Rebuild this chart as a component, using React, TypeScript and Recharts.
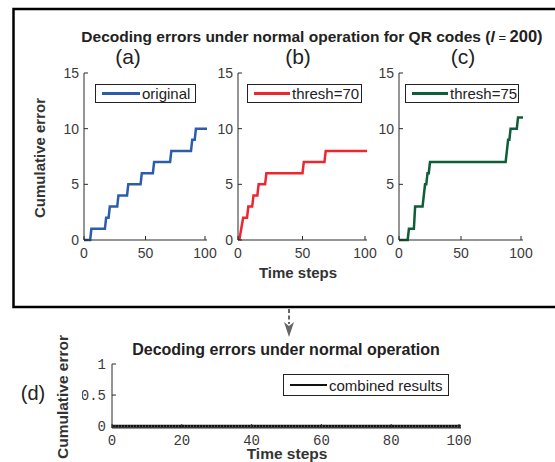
import React from 'react';
import { LineChart, Line, XAxis, YAxis, Legend } from 'recharts';

const SANS = '"Liberation Sans", Arial, sans-serif';
const MONO = '"Liberation Mono", "Courier New", monospace';
const AXIS = '#2b2b2b';
const TXT = '#3a3a3a';

// (a) original
const TIME_A = [0, 5, 6, 17, 18, 20, 21, 27, 28, 35, 36, 46, 47, 56, 57, 70, 71, 87, 88, 90, 91, 100];
const ERR_A = [0, 0, 1, 1, 2, 2, 3, 3, 4, 4, 5, 5, 6, 6, 7, 7, 8, 8, 9, 9, 10, 10];
// (b) thresh=70
const TIME_B = [1, 4, 7, 8, 11, 12, 15, 16, 21, 22, 50, 51, 67, 68, 100];
const ERR_B = [0, 2, 2, 3, 3, 4, 4, 5, 5, 6, 6, 7, 7, 8, 8];
// (c) thresh=75
const TIME_C = [0, 7, 8, 12, 13, 19, 21, 22, 23, 24, 25, 86, 88, 89, 90, 95, 96, 100];
const ERR_C = [0, 0, 1, 1, 3, 3, 5, 5, 6, 6, 7, 7, 9, 9, 10, 10, 11, 11];
// (d) combined results
const TIME_D = [0, 100];
const ERR_D = [0, 0];

const TOP_X_TICKS = [0, 50, 100];
const TOP_Y_TICKS = [0, 5, 10, 15];
const BOT_X_TICKS = [0, 20, 40, 60, 80, 100];
const BOT_Y_TICKS = [0, 0.5, 1];

const toPoints = (time: number[], err: number[]) => time.map((t, i) => ({ t, v: err[i] }));

function XTick(props: any) {
  const { x, y, payload, font, size, off } = props;
  return (
    <g>
      <line x1={x} x2={x} y1={y} y2={y - 4} stroke={AXIS} />
      <text x={x} y={y + off} dy="0.35em" textAnchor="middle" fontFamily={font} fontSize={size} fill={TXT}>
        {payload.value}
      </text>
    </g>
  );
}

function YTick(props: any) {
  const { x, y, payload, font, size, off } = props;
  return (
    <g>
      <line x1={x} x2={x + 4} y1={y} y2={y} stroke={AXIS} />
      <text x={x - off} y={y} dy="0.35em" textAnchor="end" fontFamily={font} fontSize={size} fill={TXT}>
        {payload.value}
      </text>
    </g>
  );
}

function LegendBox({ w, h, color, label, sw }: any) {
  return (
    <div
      style={{
        width: w,
        height: h,
        boxSizing: 'border-box',
        border: '1px solid #222',
        background: '#fff',
        display: 'flex',
        alignItems: 'center',
        paddingLeft: 6,
        fontFamily: SANS,
        fontSize: 15,
        color: '#222',
        lineHeight: 1,
        whiteSpace: 'nowrap',
      }}
    >
      <div style={{ width: sw, height: 2.5, background: color, marginRight: 2 }} />
      <span>{label}</span>
    </div>
  );
}

function Panel({ L, T, W, H, time, err, color, label, box }: any) {
  const data = toPoints(time, err);
  const left = L - 30;
  const top = T - 10;
  return (
    <div style={{ position: 'absolute', left, top }}>
      <LineChart width={W + 40} height={H + 35} margin={{ top: 10, right: 10, bottom: 0, left: 0 }}>
        <XAxis
          dataKey="t"
          type="number"
          domain={[0, 100]}
          ticks={TOP_X_TICKS}
          height={25}
          stroke={AXIS}
          tickLine={false}
          tickSize={0}
          tickMargin={0}
          tick={(p: any) => <XTick {...p} font={SANS} size={14} off={13} />}
        />
        <XAxis
          xAxisId="top"
          orientation="top"
          dataKey="t"
          type="number"
          domain={[0, 100]}
          ticks={TOP_X_TICKS}
          height={0}
          mirror
          tick={false}
          tickSize={4}
          stroke={AXIS}
        />
        <YAxis
          type="number"
          domain={[0, 15]}
          ticks={TOP_Y_TICKS}
          width={30}
          stroke={AXIS}
          tickLine={false}
          tickSize={0}
          tickMargin={0}
          tick={(p: any) => <YTick {...p} font={SANS} size={14} off={5} />}
        />
        <YAxis
          yAxisId="right"
          orientation="right"
          type="number"
          domain={[0, 15]}
          ticks={TOP_Y_TICKS}
          width={0}
          mirror
          tick={false}
          tickSize={4}
          stroke={AXIS}
        />
        <Line
          data={data}
          dataKey="v"
          type="linear"
          stroke={color}
          strokeWidth={2.5}
          dot={false}
          isAnimationActive={false}
        />
        <Legend
          layout="vertical"
          align="center"
          verticalAlign="middle"
          wrapperStyle={{ left: box.x - left, top: box.y - top, width: box.w }}
          content={() => <LegendBox w={box.w} h={box.h} color={color} label={label} sw={box.sw} />}
        />
      </LineChart>
    </div>
  );
}

function Combined() {
  const data = toPoints(TIME_D, ERR_D);
  const L = 112;
  const T = 364;
  const W = 349;
  const H = 64;
  const left = L - 30;
  const top = T - 10;
  return (
    <div style={{ position: 'absolute', left, top }}>
      <LineChart width={W + 40} height={H + 35} margin={{ top: 10, right: 10, bottom: 0, left: 0 }}>
        <XAxis
          dataKey="t"
          type="number"
          domain={[0, 100]}
          ticks={BOT_X_TICKS}
          height={25}
          stroke={AXIS}
          tickLine={false}
          tickSize={0}
          tickMargin={0}
          tick={(p: any) => <XTick {...p} font={MONO} size={14} off={12} />}
        />
        <XAxis
          xAxisId="top"
          orientation="top"
          dataKey="t"
          type="number"
          domain={[0, 100]}
          ticks={BOT_X_TICKS}
          height={0}
          mirror
          tick={false}
          tickSize={4}
          stroke={AXIS}
        />
        <YAxis
          type="number"
          domain={[-0.03, 1]}
          ticks={BOT_Y_TICKS}
          width={30}
          stroke={AXIS}
          tickLine={false}
          tickSize={0}
          tickMargin={0}
          tick={(p: any) => <YTick {...p} font={MONO} size={14} off={6} />}
        />
        <YAxis
          yAxisId="right"
          orientation="right"
          type="number"
          domain={[-0.03, 1]}
          ticks={BOT_Y_TICKS}
          width={0}
          mirror
          tick={false}
          tickSize={4}
          stroke={AXIS}
        />
        <Line data={data} dataKey="v" stroke="#111" strokeWidth={3} dot={false} isAnimationActive={false} />
        <Line
          data={data}
          dataKey="v"
          stroke="#888"
          strokeWidth={1}
          strokeDasharray="1 2"
          dot={false}
          isAnimationActive={false}
          legendType="none"
        />
        <Legend
          layout="vertical"
          align="center"
          verticalAlign="middle"
          wrapperStyle={{ left: 283 - left, top: 374 - top, width: 166 }}
          content={() => <LegendBox w={166} h={22} color="#111" label="combined results" sw={37} />}
        />
      </LineChart>
    </div>
  );
}

export default function App() {
  const labelProps = { fontFamily: SANS, fill: '#333', fontWeight: 'bold' as const };
  return (
    <div style={{ position: 'absolute', left: 0, top: 0, width: 555, height: 462, background: '#fff', overflow: 'hidden' }}>
      <Panel
        L={84} T={73} W={123} H={167}
        time={TIME_A} err={ERR_A} color="#2D5DAA" label="original"
        box={{ x: 95, y: 84, w: 101, h: 19, sw: 38 }}
      />
      <Panel
        L={238} T={73} W={129} H={167}
        time={TIME_B} err={ERR_B} color="#EE2630" label="thresh=70"
        box={{ x: 247, y: 84, w: 115, h: 19, sw: 36 }}
      />
      <Panel
        L={399} T={73} W={124} H={167}
        time={TIME_C} err={ERR_C} color="#0E5E3A" label="thresh=75"
        box={{ x: 405, y: 84, w: 114, h: 19, sw: 36 }}
      />
      <Combined />
      <svg width={555} height={462} style={{ position: 'absolute', left: 0, top: 0, pointerEvents: 'none' }}>
        <rect x={13.5} y={9} width={600} height={298} fill="none" stroke="#000" strokeWidth={2.5} />
        <text x={312} y={37} dy="0.35em" textAnchor="middle" fontFamily={SANS} fontSize={15.5} fill="#222">
          <tspan fontWeight="bold">Decoding errors under normal operation for QR codes (</tspan>
          <tspan fontWeight="bold" fontStyle="italic">l</tspan>
          <tspan fontSize={13}> = </tspan>
          <tspan fontWeight="bold" fontSize={16.5}>200)</tspan>
        </text>
        <text x={128} y={57} dy="0.35em" textAnchor="middle" fontFamily={SANS} fontSize={21} fill="#222">(a)</text>
        <text x={298} y={57} dy="0.35em" textAnchor="middle" fontFamily={SANS} fontSize={21} fill="#222">(b)</text>
        <text x={463} y={57} dy="0.35em" textAnchor="middle" fontFamily={SANS} fontSize={21} fill="#222">(c)</text>
        <text x={40} y={158} dy="0.35em" textAnchor="middle" fontSize={15} transform="rotate(-90 40 158)" {...labelProps}>
          Cumulative error
        </text>
        <text x={298} y={273} dy="0.35em" textAnchor="middle" fontSize={15} {...labelProps}>Time steps</text>
        <line x1={289} x2={289} y1={309} y2={324} stroke="#666" strokeWidth={2} strokeDasharray="4 2.5" />
        <polygon points="284,322 289,326 294,322 289,337" fill="#666" />
        <text x={286} y={349} dy="0.35em" textAnchor="middle" fontSize={16} {...labelProps} fill="#222">
          Decoding errors under normal operation
        </text>
        <text x={33} y={393} dy="0.35em" textAnchor="middle" fontFamily={SANS} fontSize={20} fill="#222">(d)</text>
        <text x={63} y={397} dy="0.35em" textAnchor="middle" fontSize={15.5} transform="rotate(-90 63 397)" {...labelProps}>
          Cumulative error
        </text>
        <text x={287} y={454} dy="0.35em" textAnchor="middle" fontSize={15.5} {...labelProps}>Time steps</text>
      </svg>
    </div>
  );
}
